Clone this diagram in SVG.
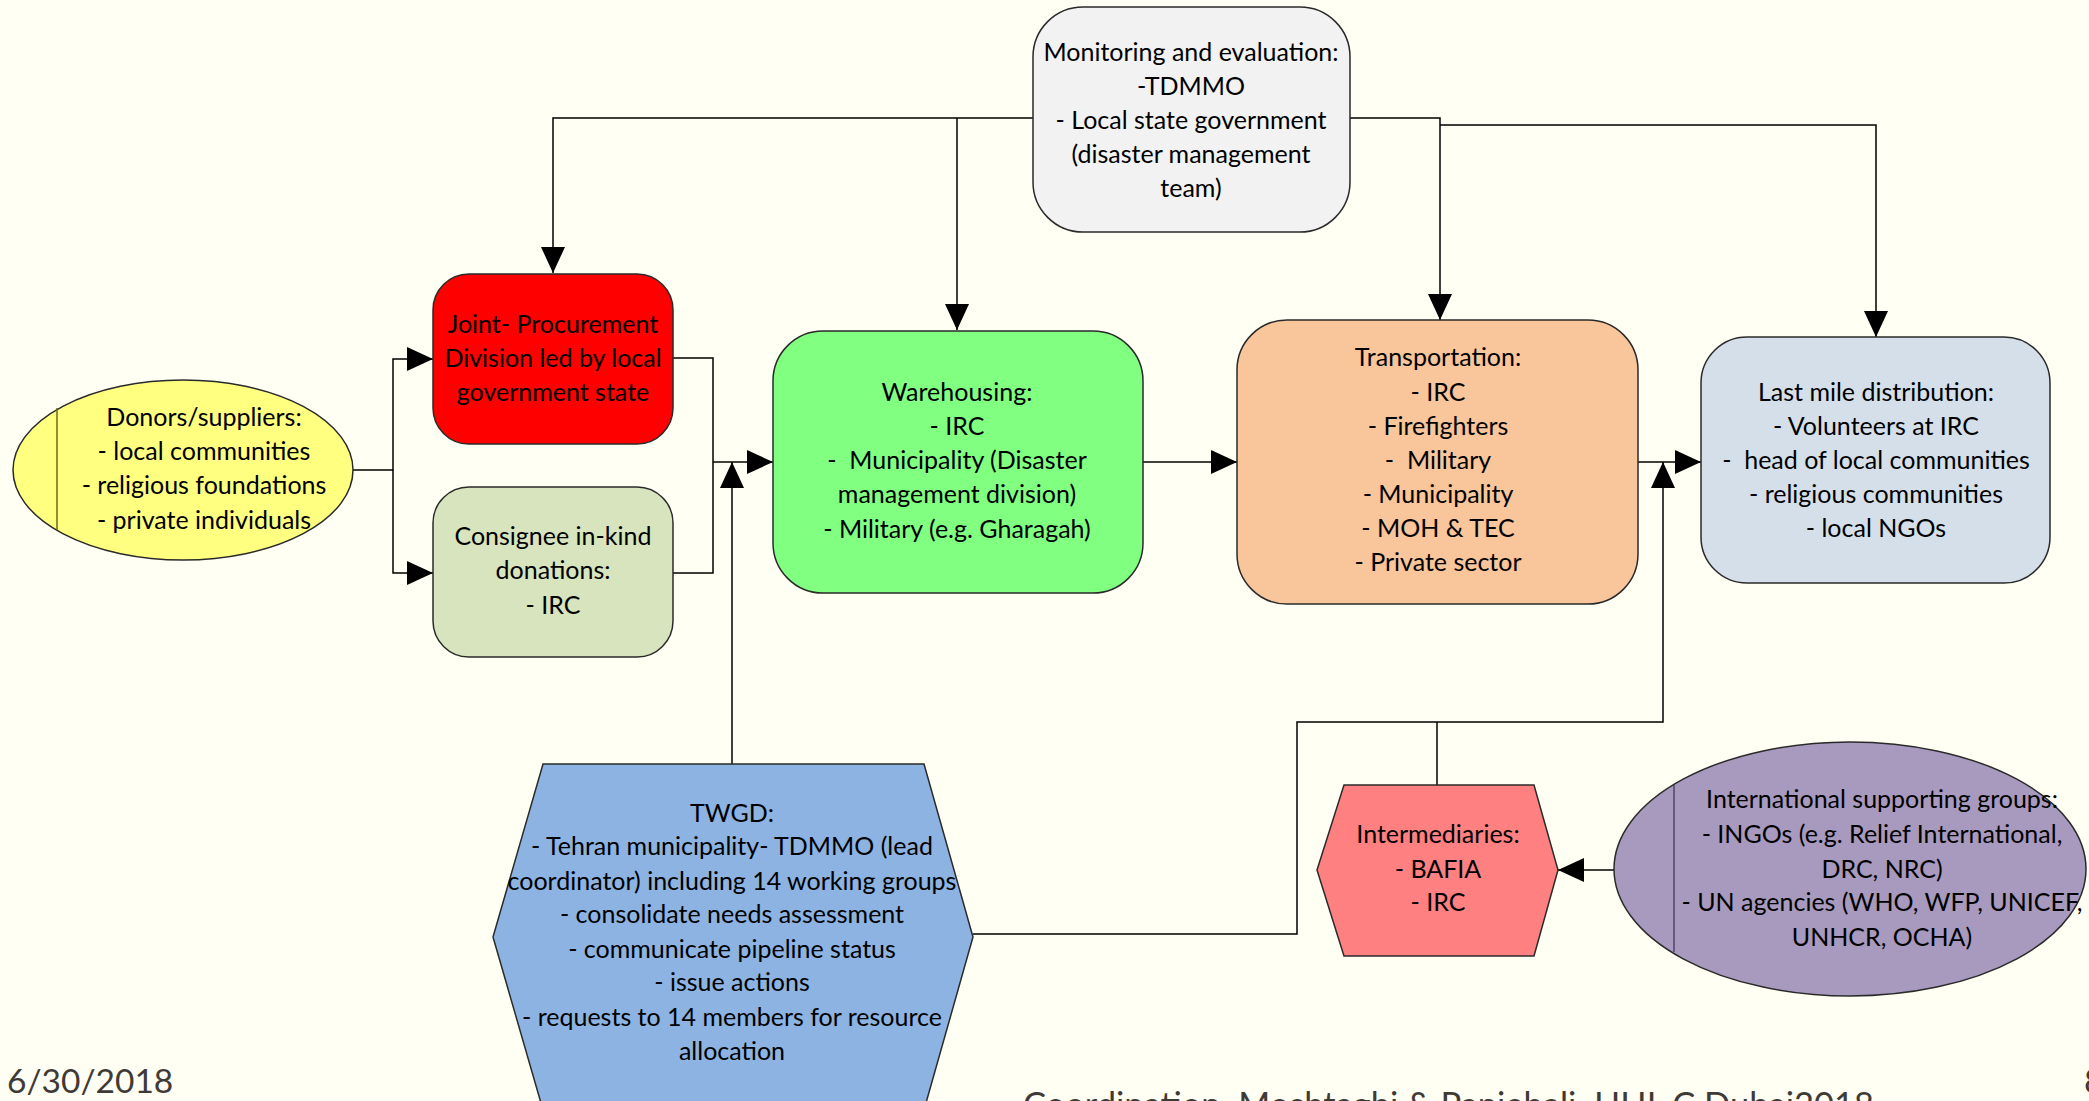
<svg xmlns="http://www.w3.org/2000/svg" width="2089" height="1101" viewBox="0 0 2089 1101">
<style>
.t{font-family:Lato,"Open Sans","Liberation Sans",sans-serif;font-size:25px;fill:#000;text-anchor:middle;white-space:pre}
.box{stroke:#2a2a2a;stroke-width:1.5}
.c{fill:none;stroke:#000;stroke-width:1.5}
.foot{font-family:Lato,"Open Sans","Liberation Sans",sans-serif;fill:#403a36;white-space:pre}
</style>
<defs>
<marker id="ah" markerUnits="userSpaceOnUse" markerWidth="28" markerHeight="24" viewBox="0 0 28 24" refX="26" refY="12" orient="auto">
<path d="M0,0 L26,12 L0,24 Z" fill="#000"/>
</marker>
</defs>
<rect width="2089" height="1101" fill="#fffff3"/>

<g id="connectors">
<path class="c" d="M1033,118 H553 V273" marker-end="url(#ah)"/>
<path class="c" d="M957,118 V330" marker-end="url(#ah)"/>
<path class="c" d="M1350,118 H1440 V320" marker-end="url(#ah)"/>
<path class="c" d="M1440,125 H1876 V337" marker-end="url(#ah)"/>
<path class="c" d="M353,470 H393 V359 H433" marker-end="url(#ah)"/>
<path class="c" d="M393,470 V573 H433" marker-end="url(#ah)"/>
<path class="c" d="M673,358 H713 V573 H673"/>
<path class="c" d="M713,462 H773" marker-end="url(#ah)"/>
<path class="c" d="M732,764 V462" marker-end="url(#ah)"/>
<path class="c" d="M1143,462 H1237" marker-end="url(#ah)"/>
<path class="c" d="M1638,462 H1701" marker-end="url(#ah)"/>
<path class="c" d="M973,934 H1297 V722 H1663 V462" marker-end="url(#ah)"/>
<path class="c" d="M1437,785 V722"/>
<path class="c" d="M1614,870 H1558" marker-end="url(#ah)"/>
</g>

<g id="monitoring">
<rect class="box" x="1033" y="7" width="317" height="225" rx="50" fill="#f2f2f2"/>
<text class="t" x="1191" y="61">Monitoring and evaluation:</text>
<text class="t" x="1191" y="95">-TDMMO</text>
<text class="t" x="1191" y="129">- Local state government</text>
<text class="t" x="1191" y="163">(disaster management</text>
<text class="t" x="1191" y="197">team)</text>
</g>

<g id="donors">
<ellipse class="box" cx="183" cy="470" rx="170" ry="90" fill="#ffff80"/>
<line x1="57" y1="408" x2="57" y2="530" stroke="#6b6b1a" stroke-width="1.5"/>
<text class="t" x="204" y="426">Donors/suppliers:</text>
<text class="t" x="204" y="460">- local communities</text>
<text class="t" x="204" y="494">- religious foundations</text>
<text class="t" x="204" y="529">- private individuals</text>
</g>

<g id="joint-procurement">
<rect class="box" x="433" y="274" width="240" height="170" rx="36" fill="#ff0000"/>
<text class="t" x="553" y="333">Joint- Procurement</text>
<text class="t" x="553" y="367">Division led by local</text>
<text class="t" x="553" y="401">government state</text>
</g>

<g id="consignee">
<rect class="box" x="433" y="487" width="240" height="170" rx="36" fill="#d7e4bd"/>
<text class="t" x="553" y="545">Consignee in-kind</text>
<text class="t" x="553" y="579">donations:</text>
<text class="t" x="553" y="614">- IRC</text>
</g>

<g id="warehousing">
<rect class="box" x="773" y="331" width="370" height="262" rx="50" fill="#80ff80"/>
<text class="t" x="957" y="401">Warehousing:</text>
<text class="t" x="957" y="435">- IRC</text>
<text class="t" x="957" y="469">-  Municipality (Disaster</text>
<text class="t" x="957" y="503">management division)</text>
<text class="t" x="957" y="538">- Military (e.g. Gharagah)</text>
</g>

<g id="transportation">
<rect class="box" x="1237" y="320" width="401" height="284" rx="50" fill="#f9c59b"/>
<text class="t" x="1438" y="366">Transportation:</text>
<text class="t" x="1438" y="401">- IRC</text>
<text class="t" x="1438" y="435">- Firefighters</text>
<text class="t" x="1438" y="469">-  Military</text>
<text class="t" x="1438" y="503">- Municipality</text>
<text class="t" x="1438" y="537">- MOH &amp; TEC</text>
<text class="t" x="1438" y="571">- Private sector</text>
</g>

<g id="last-mile">
<rect class="box" x="1701" y="337" width="349" height="246" rx="46" fill="#d5dfea"/>
<text class="t" x="1876" y="401">Last mile distribution:</text>
<text class="t" x="1876" y="435">- Volunteers at IRC</text>
<text class="t" x="1876" y="469">-  head of local communities</text>
<text class="t" x="1876" y="503">- religious communities</text>
<text class="t" x="1876" y="537">- local NGOs</text>
</g>

<g id="twgd">
<polygon class="box" points="543,764 924,764 973,937 924,1110 543,1110 493,937" fill="#8db3e2"/>
<text class="t" x="732" y="822">TWGD:</text>
<text class="t" x="732" y="855">- Tehran municipality- TDMMO (lead</text>
<text class="t" x="732" y="890">coordinator) including 14 working groups</text>
<text class="t" x="732" y="923">- consolidate needs assessment</text>
<text class="t" x="732" y="958">- communicate pipeline status</text>
<text class="t" x="732" y="991">- issue actions</text>
<text class="t" x="732" y="1026">- requests to 14 members for resource</text>
<text class="t" x="732" y="1060">allocation</text>
</g>

<g id="intermediaries">
<polygon class="box" points="1344,785 1534,785 1558,870 1534,956 1344,956 1317,870" fill="#ff8080"/>
<text class="t" x="1438" y="843">Intermediaries:</text>
<text class="t" x="1438" y="878">- BAFIA</text>
<text class="t" x="1438" y="911">- IRC</text>
</g>

<g id="international">
<ellipse class="box" cx="1850" cy="869" rx="236" ry="127" fill="#a89abe"/>
<line x1="1674" y1="785" x2="1674" y2="952" stroke="#3a3050" stroke-width="1.2"/>
<text class="t" x="1882" y="808">International supporting groups:</text>
<text class="t" x="1882" y="843">- INGOs (e.g. Relief International,</text>
<text class="t" x="1882" y="878">DRC, NRC)</text>
<text class="t" x="1882" y="911">- UN agencies (WHO, WFP, UNICEF,</text>
<text class="t" x="1882" y="946">UNHCR, OCHA)</text>
</g>

<g id="footer">
<text class="foot" x="7" y="1093" font-size="33.5">6/30/2018</text>
<text class="foot" x="1023" y="1117" font-size="34.5" fill="#595959">Coordination  Moshtaghi &amp; Panjehali  HHL C Dubai2018</text>
<text class="foot" x="2084" y="1093" font-size="33.5">8</text>
</g>
</svg>
